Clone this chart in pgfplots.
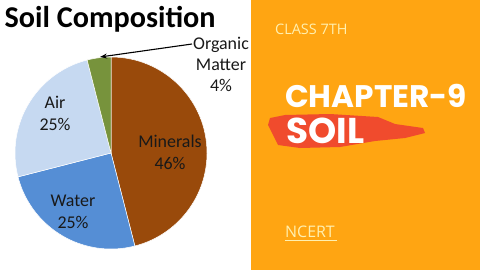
\documentclass[border=0pt]{standalone}
\usepackage{pgfplots}
\pgfplotsset{compat=1.18}
\usepackage{pgfplotstable}
\usepackage{fontspec}
\setmainfont{Carlito}
\newfontfamily\popfont{Poppins}
\newfontfamily\opfont{Open Sans}
\usetikzlibrary{arrows.meta}
\definecolor{mineral}{HTML}{994A0B}
\definecolor{water}{HTML}{558ED5}
\definecolor{air}{HTML}{C6D9F1}
\definecolor{organic}{HTML}{77933C}
\definecolor{panel}{HTML}{FFA512}
\definecolor{brush}{HTML}{F04B2D}
\definecolor{cream}{HTML}{FFF0B0}

\pgfplotstableread{
label pct
Minerals 46
Water 25
Air 25
Organic 4
}\soiltable

\pgfplotstablegetelem{0}{pct}\of\soiltable \let\pM\pgfplotsretval
\pgfplotstablegetelem{1}{pct}\of\soiltable \let\pW\pgfplotsretval
\pgfplotstablegetelem{2}{pct}\of\soiltable \let\pA\pgfplotsretval
\pgfplotstablegetelem{3}{pct}\of\soiltable \let\pO\pgfplotsretval
\pgfmathsetmacro\aA{90}
\pgfmathsetmacro\aB{\aA-3.6*\pM}
\pgfmathsetmacro\aC{\aB-3.6*\pW}
\pgfmathsetmacro\aD{\aC-3.6*\pA}
\pgfmathsetmacro\aE{\aD-3.6*\pO}

\begin{document}
\begin{tikzpicture}
\begin{axis}[x=1bp,y=1bp,xmin=0,xmax=480,ymin=0,ymax=270,
  scale only axis,hide axis,clip=false]
% backgrounds
\fill[white] (axis cs:0,0) rectangle (axis cs:251,270);
\fill[panel] (axis cs:251,0) rectangle (axis cs:480,270);
% pie
\def\R{96bp}
\filldraw[fill=mineral,draw=white,line width=0.5bp] (axis cs:111,117) -- ++(\aA:\R) arc[start angle=\aA,end angle=\aB,radius=\R] -- cycle;
\filldraw[fill=water,draw=white,line width=0.5bp] (axis cs:111,117) -- ++(\aB:\R) arc[start angle=\aB,end angle=\aC,radius=\R] -- cycle;
\filldraw[fill=air,draw=white,line width=0.5bp] (axis cs:111,117) -- ++(\aC:\R) arc[start angle=\aC,end angle=\aD,radius=\R] -- cycle;
\filldraw[fill=organic,draw=white,line width=0.5bp] (axis cs:111,117) -- ++(\aD:\R) arc[start angle=\aD,end angle=\aE,radius=\R] -- cycle;
% title
\node[anchor=base west,inner sep=0pt,font=\fontsize{30.3}{32}\selectfont\bfseries] at (axis cs:4.5,243) {Soil Composition};
% labels
\node[align=center,inner sep=0pt,font=\fontsize{18}{22}\selectfont,text=black!90] at (axis cs:170,118) {Minerals\\46\%};
\node[align=center,inner sep=0pt,font=\fontsize{18}{22}\selectfont,text=black!90] at (axis cs:73,58) {Water\\25\%};
\node[align=center,inner sep=0pt,font=\fontsize{18}{22}\selectfont,text=black!90] at (axis cs:55,157) {Air\\25\%};
\node[align=center,inner sep=0pt,font=\fontsize{18}{21}\selectfont,text=black!90] at (axis cs:221,206) {Organic\\Matter\\4\%};
\draw[-{Stealth[length=7bp,width=5bp]},line width=1.1bp] (axis cs:192,226) -- (axis cs:100,213);
% right panel
\node[anchor=base west,inner sep=0pt,font=\opfont\fontsize{14.5}{16}\selectfont,text=cream] at (axis cs:275,236) {CLASS 7TH};
\fill[brush] (axis cs:270,152) -- (axis cs:285,155) -- (axis cs:330,156) -- (axis cs:378,153) -- (axis cs:395,146) -- (axis cs:423,142) -- (axis cs:425,137) -- (axis cs:405,132) -- (axis cs:375,129) -- (axis cs:340,123) -- (axis cs:300,122) -- (axis cs:278,125) -- (axis cs:273,135) -- (axis cs:268,145) -- cycle;
\node[anchor=base west,inner sep=0pt,font=\popfont\bfseries\fontsize{31.3}{34}\selectfont,text=white] at (axis cs:285,163) {CHAPTER-9};
\node[anchor=base west,inner sep=0pt,font=\popfont\bfseries\fontsize{36}{38}\selectfont,text=white] at (axis cs:286,127) {SOIL};
\node[anchor=base west,inner sep=0pt,font=\opfont\fontsize{16}{18}\selectfont,text=cream] at (axis cs:285,33) {NCERT};
\draw[cream,line width=1bp] (axis cs:285,29.5) -- (axis cs:337,29.5);
\end{axis}
\end{tikzpicture}
\end{document}
